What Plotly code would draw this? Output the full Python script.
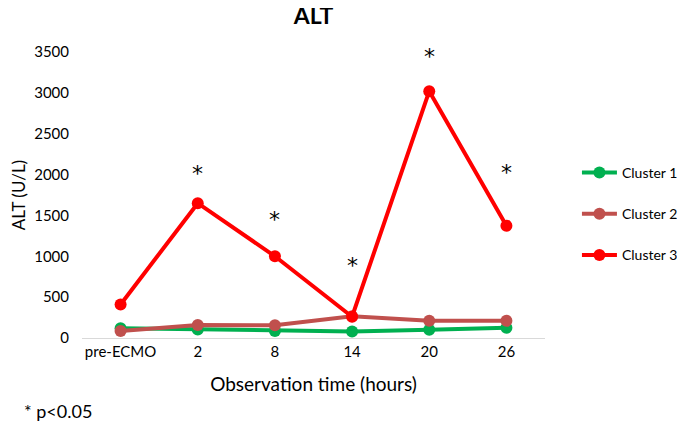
import plotly.graph_objects as go

categories = ["pre-ECMO", "2", "8", "14", "20", "26"]
cluster1 = [120, 105, 85, 80, 100, 125]
cluster2 = [85, 160, 155, 265, 210, 210]
cluster3 = [410, 1650, 1000, 260, 3020, 1375]
sig_categories = ["2", "8", "14", "20", "26"]
sig_y = [2010, 1450, 890, 3450, 2030]

FONT = "Lato, Open Sans, sans-serif"

fig = go.Figure()
series = [("Cluster 1", cluster1, "#00B050"), ("Cluster 2", cluster2, "#C0504D"), ("Cluster 3", cluster3, "#FF0000")]
for name, vals, col in series:
    fig.add_trace(go.Scatter(x=categories, y=vals, name=name, mode="lines+markers",
                             line=dict(color=col, width=4), marker=dict(color=col, size=12),
                             legendgroup=name))

for c, y in zip(sig_categories, sig_y):
    fig.add_annotation(x=categories.index(c), y=y, text="*", showarrow=False,
                       font=dict(size=22, color="black", family="DejaVu Sans"))

fig.add_annotation(xref="paper", yref="paper", x=-0.13, y=-0.255, xanchor="left", yanchor="middle",
                   text="* p<0.05", showarrow=False, font=dict(size=18, color="black", family=FONT))

fig.update_layout(
    width=677, height=415,
    margin=dict(l=74, r=140, t=44, b=85, autoexpand=False),
    paper_bgcolor="white", plot_bgcolor="white",
    font=dict(family=FONT, color="black", size=14),
    title=dict(text="<b>ALT</b>", x=0.5, xref="paper", xanchor="center", y=1.0, yref="container",
               yanchor="top", pad=dict(t=0),
               font=dict(size=23, family=FONT, color="black")),
    legend=dict(x=1.069, y=0.633, xanchor="left", yanchor="top", font=dict(size=14, family=FONT),
                tracegroupgap=20, traceorder="grouped", itemwidth=35),
    showlegend=True,
)
fig.update_xaxes(type="category", categoryorder="array", categoryarray=categories, range=[-0.5, 5.5],
                 showline=True, linecolor="#D9D9D9", linewidth=1, showgrid=False, tickangle=0,
                 ticks="", tickfont=dict(size=15), automargin=False,
                 title=dict(text="Observation time (hours)", font=dict(size=19), standoff=18))
fig.update_yaxes(range=[0, 3500], dtick=500, showgrid=False, zeroline=False, showline=False,
                 tickfont=dict(size=15), automargin=False, ticklabelstandoff=12,
                 title=dict(text="ALT (U/L)", font=dict(size=17), standoff=12))

fig.write_html("out.html")
